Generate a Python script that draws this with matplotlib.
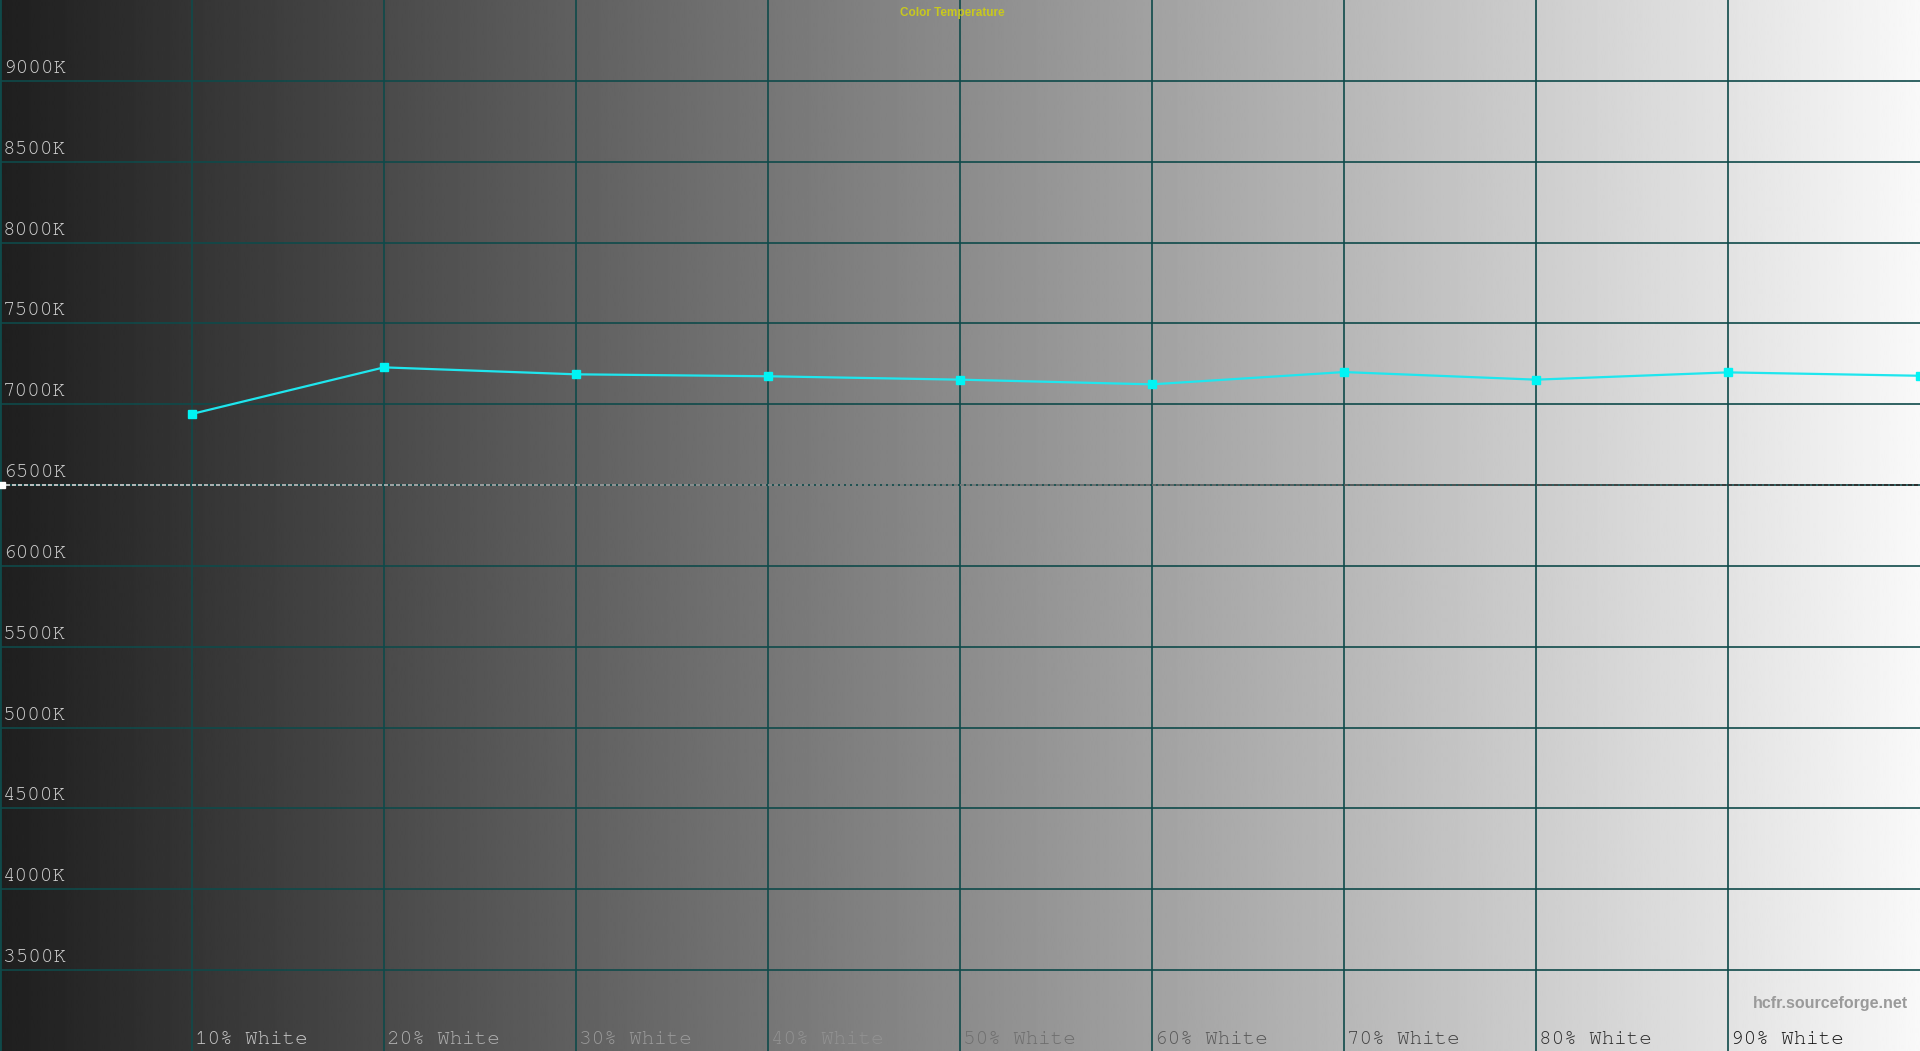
import numpy as np
import matplotlib
matplotlib.use("Agg")
import matplotlib.pyplot as plt
from matplotlib.collections import LineCollection
from matplotlib.transforms import offset_copy

# measured colour temperature per grey step (10% .. 100% white)
steps = [1, 2, 3, 4, 5, 6, 7, 8, 9, 10]
cct = [6940, 7228, 7185, 7173, 7152, 7123, 7199, 7152, 7197, 7176]
x_labels = ["10% White", "20% White", "30% White", "40% White", "50% White",
            "60% White", "70% White", "80% White", "90% White"]
y_ticks = [3500, 4000, 4500, 5000, 5500, 6000, 6500, 7000, 7500, 8000, 8500, 9000]
y_labels = [f"{v}K" for v in y_ticks]
target = 6500

GRID = "#0f4a4a"
LINE = "#1fe6ee"
MONO = ["Courier New", "Nimbus Mono PS", "FreeMono", "Liberation Mono"]
X0, X1 = 0, 10
Y0, Y1 = 3000, 9500
BG_LO, BG_HI = 0.12, 0.975


def bg(x):
    return BG_LO + (BG_HI - BG_LO) * (x - X0) / (X1 - X0)


def inv(x):
    g = 1 - bg(x)
    return (g, g, g)


def label_col(x):
    # inverted, but kept a little apart from the background
    b = bg(x)
    g = 1 - b
    if abs(g - b) < 0.09:
        g = b + 0.09 if b < 0.5 else b - 0.09
    return (g, g, g)


fig = plt.figure(figsize=(19.2, 10.51), dpi=100)
ax = fig.add_axes([0, 0, 1, 1])

grad = np.linspace(BG_LO, BG_HI, 1024).reshape(1, -1)
ax.imshow(grad, cmap="gray", vmin=0, vmax=1, aspect="auto",
          extent=[X0, X1, Y0, Y1], zorder=0, interpolation="bilinear")

ax.set_xlim(X0, X1)
ax.set_ylim(Y0, Y1)
ax.set_xticks(range(0, 10))
ax.set_yticks(y_ticks)
ax.tick_params(length=0, labelbottom=False, labelleft=False)
ax.set_axisbelow(True)
ax.grid(True, color=GRID, lw=1.2)
for side in ["top", "right", "bottom"]:
    ax.spines[side].set_visible(False)
ax.spines["left"].set_color(GRID)
ax.spines["left"].set_linewidth(2)

# 6500K reference, dashed and drawn inverted against the background
px = (X1 - X0) / 1920
starts = np.arange(X0, X1, 6 * px)
segs = [[(s, target), (s + 4 * px, target)] for s in starts]
cols = [tuple(0.15 + 0.75 * c for c in inv(s + 2 * px)) for s in starts]
ax.add_collection(LineCollection(segs, colors=cols, linewidths=1.3, zorder=2))
ax.plot([X0 + 2 * px], [target], marker="s", ms=4, color="white", zorder=3,
        clip_on=False)

ax.plot(steps, cct, color=LINE, lw=1.6, marker="s", ms=5.5,
        markerfacecolor="#00f4f4", markeredgecolor="#00f4f4", zorder=4,
        clip_on=True)

# y labels, sitting just above each gridline
ytr = offset_copy(ax.transData, fig=fig, x=0, y=4, units="dots")
for v, lab in zip(y_ticks, y_labels):
    ax.text(X0 + 3 * px, v, lab, transform=ytr, family=MONO, fontsize=15,
            color=(0.82, 0.82, 0.82), ha="left", va="bottom")

# x labels at the bottom, just right of each gridline
for i, lab in enumerate(x_labels, start=1):
    ax.text(i + 3 * px, Y0 + 7 * (Y1 - Y0) / 1051, lab, family=MONO,
            fontsize=15, color=label_col(i + 0.25), ha="left", va="baseline")

fig.text(0.496, 1 - 13 / 1051, "Color Temperature", color="#c8c81e",
         family="Liberation Sans", fontsize=8.5, fontweight="bold",
         ha="center", va="center")
fig.text(1908 / 1920, 1 - 1008 / 1051, "hcfr.sourceforge.net", color="#9a9a9a",
         family="Liberation Sans", fontsize=11.5, fontweight="bold",
         ha="right", va="baseline")

fig.savefig("out.png", dpi=100)
